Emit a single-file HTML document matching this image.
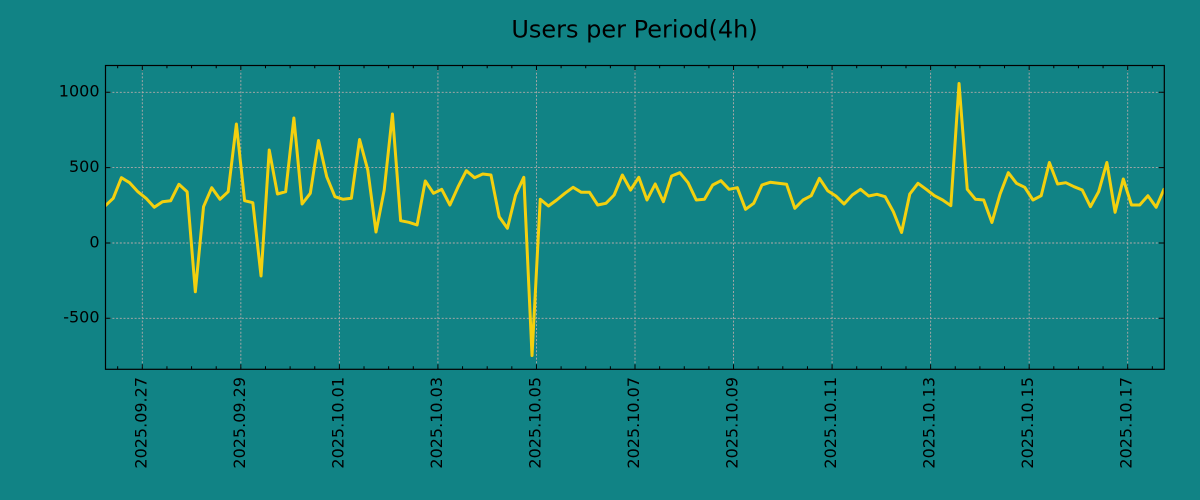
<!DOCTYPE html>
<html>
<head>
<meta charset="utf-8">
<style>
html,body{margin:0;padding:0;background:#118385;}
svg{display:block;}
text{font-family:"DejaVu Sans","Liberation Sans",sans-serif;fill:#000;}
</style>
</head>
<body>
<svg width="1200" height="500" viewBox="0 0 1200 500" xmlns="http://www.w3.org/2000/svg">
<rect x="0" y="0" width="1200" height="500" fill="#118385"/>
<defs>
<clipPath id="pc"><rect x="105" y="65.3" width="1059.3" height="304"/></clipPath>
</defs>
<text x="634.5" y="37.3" font-size="24" text-anchor="middle">Users per Period(4h)</text>

<!-- grid -->
<g stroke="#b3a9a9" stroke-width="0.9" stroke-dasharray="2,1.7" fill="none">
<line x1="105" y1="92.3" x2="1164.3" y2="92.3"/>
<line x1="105" y1="167.6" x2="1164.3" y2="167.6"/>
<line x1="105" y1="243" x2="1164.3" y2="243"/>
<line x1="105" y1="318.3" x2="1164.3" y2="318.3"/>
<line x1="142.3" y1="65.3" x2="142.3" y2="369.3"/>
<line x1="240.84" y1="65.3" x2="240.84" y2="369.3"/>
<line x1="339.38" y1="65.3" x2="339.38" y2="369.3"/>
<line x1="437.92" y1="65.3" x2="437.92" y2="369.3"/>
<line x1="536.46" y1="65.3" x2="536.46" y2="369.3"/>
<line x1="635" y1="65.3" x2="635" y2="369.3"/>
<line x1="733.54" y1="65.3" x2="733.54" y2="369.3"/>
<line x1="832.08" y1="65.3" x2="832.08" y2="369.3"/>
<line x1="930.62" y1="65.3" x2="930.62" y2="369.3"/>
<line x1="1029.16" y1="65.3" x2="1029.16" y2="369.3"/>
<line x1="1127.7" y1="65.3" x2="1127.7" y2="369.3"/>
</g>

<!-- data line -->
<polyline clip-path="url(#pc)" fill="none" stroke="#f3d00e" stroke-width="3" stroke-linejoin="round" stroke-linecap="butt" points="
105,206 113.21,198.3 121.42,177.7 129.64,182.7 137.85,191.7 146.06,198.3 154.27,207.3 162.48,201.7 170.70,200.7 178.91,184.3
187.12,191.7 195.33,291.8 203.54,206.7 211.76,187.7 219.97,199.3 228.18,191.7 236.39,124 244.60,200.7 252.82,202.7 261.03,276
269.24,150 277.45,194 285.66,191.7 293.88,118 302.09,204 310.30,193.3 318.51,140.5 326.72,176.7 334.94,196.7 343.15,199.3
351.36,198.3 359.57,139.5 367.78,170 376.00,232 384.21,190 392.42,114 400.63,220.7 408.84,222.3 417.06,225 425.27,181
433.48,193.3 441.69,189.3 449.90,205 458.12,186.7 466.33,170.7 474.54,177.7 482.75,174 490.96,175 499.18,216.7 507.39,228.3
515.60,195 523.81,177.3 532.02,355.5 540.24,199.3 548.45,206 556.66,200 564.87,193.3 573.08,187.3 581.30,192.3 589.51,192.3
597.72,205 605.93,203.3 614.14,195 622.36,175 630.57,190 638.78,177.3 646.99,200 655.20,184 663.42,201.7 671.63,176
679.84,172.7 688.05,182.7 696.26,200 704.48,199.3 712.69,185 720.90,180.7 729.11,189.3 737.32,187.7 745.54,209.3 753.75,203.3
761.96,185 770.17,182.3 778.38,183.3 786.60,184.3 794.81,208.3 803.02,200 811.23,195.7 819.44,178.3 827.66,190.7 835.87,196
844.08,204 852.29,195 860.50,189.3 868.72,196 876.93,194.3 885.14,196.7 893.35,211.7 901.56,232.5 909.78,194 917.99,183.3
926.20,189.3 934.41,195.7 942.62,200 950.84,205.7 959.05,83.5 967.26,189.3 975.47,199.3 983.68,200 991.90,222.5 1000.11,194
1008.32,172.7 1016.53,183.3 1024.74,187.3 1032.96,200 1041.17,195.7 1049.38,162.5 1057.59,184 1065.80,182.7 1074.02,186.7 1082.23,190
1090.44,206.7 1098.65,191.7 1106.86,162.5 1115.08,212.3 1123.29,179 1131.50,205 1139.71,205 1147.92,195.7 1156.14,207.3 1164.35,188.3"/>

<!-- ticks -->
<g stroke="#000" stroke-width="1" fill="none">
<!-- y major ticks left/right -->
<path d="M105,92.3h5.5M105,167.6h5.5M105,243h5.5M105,318.3h5.5
M1164.3,92.3h-5.5M1164.3,167.6h-5.5M1164.3,243h-5.5M1164.3,318.3h-5.5"/>
<!-- x major ticks bottom/top -->
<path d="M142.3,369.3v-5M240.84,369.3v-5M339.38,369.3v-5M437.92,369.3v-5M536.46,369.3v-5M635,369.3v-5M733.54,369.3v-5M832.08,369.3v-5M930.62,369.3v-5M1029.16,369.3v-5M1127.7,369.3v-5
M142.3,65.3v5M240.84,65.3v5M339.38,65.3v5M437.92,65.3v5M536.46,65.3v5M635,65.3v5M733.54,65.3v5M832.08,65.3v5M930.62,65.3v5M1029.16,65.3v5M1127.7,65.3v5"/>
<!-- x minor ticks -->
<path d="M117.67,369.3v-3M166.94,369.3v-3M191.57,369.3v-3M216.21,369.3v-3M265.48,369.3v-3M290.11,369.3v-3M314.75,369.3v-3M364.02,369.3v-3M388.65,369.3v-3M413.29,369.3v-3M462.56,369.3v-3M487.19,369.3v-3M511.83,369.3v-3M561.1,369.3v-3M585.73,369.3v-3M610.37,369.3v-3M659.64,369.3v-3M684.27,369.3v-3M708.91,369.3v-3M758.18,369.3v-3M782.81,369.3v-3M807.45,369.3v-3M856.72,369.3v-3M881.35,369.3v-3M905.99,369.3v-3M955.26,369.3v-3M979.89,369.3v-3M1004.53,369.3v-3M1053.8,369.3v-3M1078.43,369.3v-3M1103.07,369.3v-3M1152.34,369.3v-3
M117.67,65.3v3M166.94,65.3v3M191.57,65.3v3M216.21,65.3v3M265.48,65.3v3M290.11,65.3v3M314.75,65.3v3M364.02,65.3v3M388.65,65.3v3M413.29,65.3v3M462.56,65.3v3M487.19,65.3v3M511.83,65.3v3M561.1,65.3v3M585.73,65.3v3M610.37,65.3v3M659.64,65.3v3M684.27,65.3v3M708.91,65.3v3M758.18,65.3v3M782.81,65.3v3M807.45,65.3v3M856.72,65.3v3M881.35,65.3v3M905.99,65.3v3M955.26,65.3v3M979.89,65.3v3M1004.53,65.3v3M1053.8,65.3v3M1078.43,65.3v3M1103.07,65.3v3M1152.34,65.3v3"/>
</g>

<!-- axes frame -->
<rect x="105.5" y="65.5" width="1058.8" height="303.8" fill="none" stroke="#000" stroke-width="1.2"/>

<!-- y labels -->
<g font-size="16" text-anchor="end">
<text x="99.5" y="96.7">1000</text>
<text x="99.5" y="172">500</text>
<text x="99.5" y="247.4">0</text>
<text x="99.5" y="322.7">-500</text>
</g>

<!-- x labels -->
<g font-size="16" text-anchor="end">
<text transform="translate(146.3,377) rotate(-90)">2025.09.27</text>
<text transform="translate(244.84,377) rotate(-90)">2025.09.29</text>
<text transform="translate(343.38,377) rotate(-90)">2025.10.01</text>
<text transform="translate(441.92,377) rotate(-90)">2025.10.03</text>
<text transform="translate(540.46,377) rotate(-90)">2025.10.05</text>
<text transform="translate(639,377) rotate(-90)">2025.10.07</text>
<text transform="translate(737.54,377) rotate(-90)">2025.10.09</text>
<text transform="translate(836.08,377) rotate(-90)">2025.10.11</text>
<text transform="translate(934.62,377) rotate(-90)">2025.10.13</text>
<text transform="translate(1033.16,377) rotate(-90)">2025.10.15</text>
<text transform="translate(1131.7,377) rotate(-90)">2025.10.17</text>
</g>
</svg>
</body>
</html>
